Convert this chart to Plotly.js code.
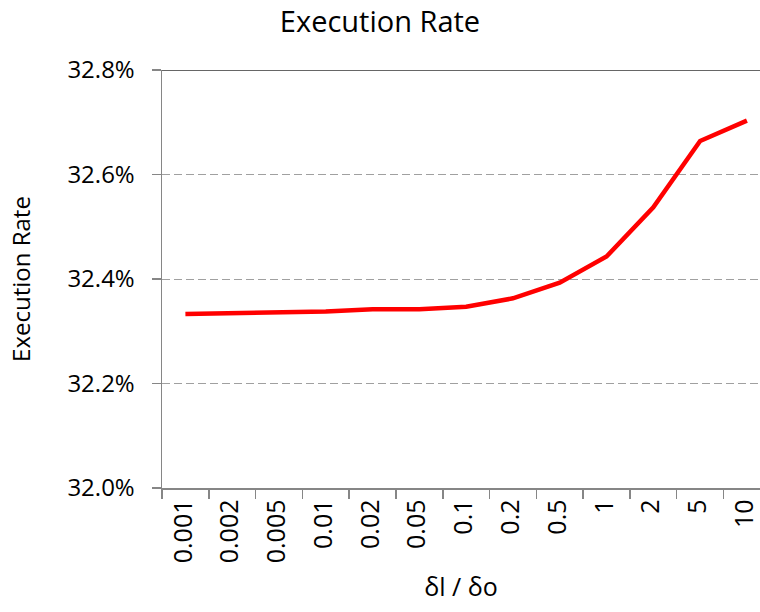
<!DOCTYPE html>
<html>
<head>
<meta charset="utf-8">
<script src="https://cdn.plot.ly/plotly-3.0.1.min.js"></script>
<style>html,body{margin:0;padding:0;background:#fff;}#chart{width:760px;height:612px;}</style>
</head>
<body>
<div id="chart"></div>
<script>
const categories = ["0.001","0.002","0.005","0.01","0.02","0.05","0.1","0.2","0.5","1","2","5","10"];
const executionRate = [0.32333,0.32334,0.32335,0.32338,0.32342,0.32342,0.32347,0.32363,0.32393,0.32443,0.32537,0.32664,0.32703];
const yTicks = [0.320,0.322,0.324,0.326,0.328];

const FONT = "Open Sans, Lato, sans-serif";

const trace = {
  type: "scatter",
  mode: "lines",
  x: categories,
  y: executionRate,
  line: {color: "#ff0000", width: 4.5},
  hoverinfo: "skip"
};

const layout = {
  width: 760, height: 612,
  margin: {l: 162, r: 0, t: 70, b: 124},
  paper_bgcolor: "#fff", plot_bgcolor: "#fff",
  font: {family: FONT, size: 22, color: "#000"},
  showlegend: false,
  title: {text: "Execution Rate", font: {family: FONT, size: 29, color: "#000"},
          x: 0.5, xref: "container", y: 0.964, yref: "container", yanchor: "middle"},
  xaxis: {
    type: "category",
    range: [-0.5, 12.28],
    tickson: "boundaries",
    ticks: "outside", ticklen: 9, tickcolor: "#868686", tickwidth: 1.5,
    tickangle: -90,
    ticklabelshift: -2,
    showline: true, linecolor: "#868686", linewidth: 1.5,
    showgrid: false, zeroline: false,
    tickfont: {family: FONT, size: 25, color: "#000"},
    title: {text: "δl / δo", font: {family: FONT, size: 25, color: "#000"}, standoff: 16}
  },
  yaxis: {
    range: [0.320, 0.328],
    tickvals: yTicks,
    tickformat: ".1%",
    ticks: "outside", ticklen: 9, tickcolor: "#868686", tickwidth: 1.5,
    ticklabelstandoff: 12,
    showline: true, linecolor: "#868686", linewidth: 1.5,
    showgrid: true, gridcolor: "#a0a0a0", gridwidth: 1, griddash: "8px,4px",
    zeroline: false,
    tickfont: {family: FONT, size: 24, color: "#000"},
    title: {text: "Execution Rate", font: {family: FONT, size: 24, color: "#000"}, standoff: 30}
  },
  shapes: [{
    type: "line", xref: "paper", yref: "y", x0: 0, x1: 1, y0: 0.328, y1: 0.328,
    line: {color: "#333333", width: 1.5}
  }]
};

Plotly.newPlot("chart", [trace], layout, {staticPlot: true, displayModeBar: false});
</script>
</body>
</html>
